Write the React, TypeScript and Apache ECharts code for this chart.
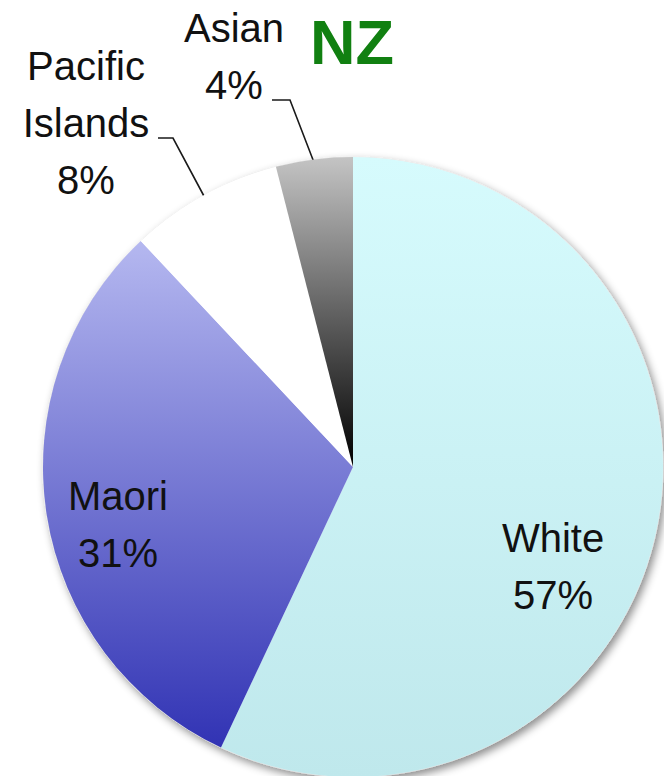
import React, { useEffect, useRef } from "react";
import * as echarts from "echarts";

const categories = ["White", "Maori", "Pacific Islands", "Asian"];
const displayNames = ["White", "Maori", "Pacific\nIslands", "Asian"];
const values = [57, 31, 8, 4];
const titleText = "NZ";

const gradients = [
  ["#d6fbfd", "#bfe8ec"],
  ["#b5b8f0", "#3133b4"],
  ["#ffffff", "#ffffff"],
  ["#c4c4c4", "#000000"],
];

// label block centres and leader lines (layout only)
const labelPos: [number, number][] = [
  [553, 566],
  [118, 524],
  [86, 123],
  [234, 56],
];
const leaderLines: ([number, number][] | null)[] = [
  null,
  null,
  [[205, 198], [173, 138], [158, 138]],
  [[315, 165], [290, 100], [272, 100]],
];

export default function App() {
  const ref = useRef<HTMLDivElement>(null);
  useEffect(() => {
    if (!ref.current) return;
    const chart = echarts.init(ref.current, null, { renderer: "svg" });
    const center = [353, 467];
    const radius = 310;
    chart.setOption({
      animation: false,
      backgroundColor: "#ffffff",
      title: {
        text: titleText,
        left: 305,
        top: 5,
        textStyle: {
          fontFamily: "Liberation Sans, Arial, sans-serif",
          fontSize: 63,
          fontWeight: "bold",
          color: "#118011",
        },
      },
      series: [
        {
          type: "pie",
          silent: true,
          z: 1,
          center,
          radius,
          startAngle: 90,
          label: { show: false },
          labelLine: { show: false },
          itemStyle: {
            color: "#ffffff",
            borderColor: "#e0e0e0",
            borderWidth: 0.6,
            shadowBlur: 8,
            shadowOffsetX: 3,
            shadowOffsetY: 4,
            shadowColor: "rgba(0,0,0,0.45)",
          },
          data: [{ value: 1, name: "bg" }],
        },
        {
          type: "pie",
          z: 2,
          center,
          radius,
          startAngle: 90,
          clockwise: true,
          avoidLabelOverlap: false,
          itemStyle: { borderWidth: 0 },
          label: {
            show: true,
            position: "outside",
            fontFamily: "Liberation Sans, Arial, sans-serif",
            fontSize: 40,
            lineHeight: 57,
            color: "#111111",
            align: "center",
            formatter: (p: any) => `${displayNames[p.dataIndex]}\n${p.value}%`,
          },
          labelLine: {
            show: true,
            lineStyle: { color: "#1a1a1a", width: 1.6 },
          },
          labelLayout: (p: any) => {
            const i = p.dataIndex;
            const out: any = {
              x: labelPos[i][0],
              y: labelPos[i][1],
              align: "center",
              verticalAlign: "middle",
            };
            if (leaderLines[i]) out.labelLinePoints = leaderLines[i];
            return out;
          },
          data: categories.map((name, i) => ({
            name,
            value: values[i],
            itemStyle: {
              color: new echarts.graphic.LinearGradient(0, 0, 0, 1, [
                { offset: 0, color: gradients[i][0] },
                { offset: 1, color: gradients[i][1] },
              ]),
            },
            labelLine: { show: leaderLines[i] !== null },
          })),
        },
      ],
    });
    return () => chart.dispose();
  }, []);
  return (
    <div
      ref={ref}
      style={{ position: "absolute", left: 0, top: 0, width: 664, height: 776 }}
    />
  );
}
